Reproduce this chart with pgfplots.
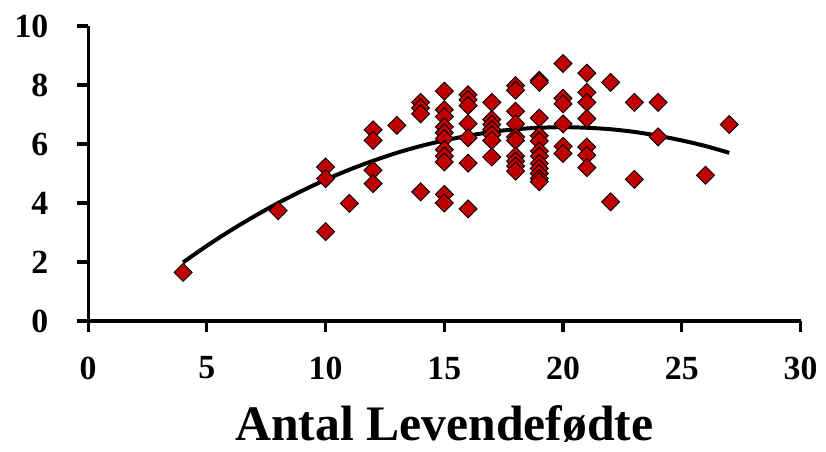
\documentclass[border=0pt]{standalone}
\usepackage{fontspec}
\setmainfont{Liberation Serif}
\usepackage{pgfplots}
\pgfplotsset{compat=1.18}
\definecolor{markred}{RGB}{192,0,0}

\begin{document}
\begin{tikzpicture}
\begin{axis}[
    width=358.5pt, height=148.5pt,
    scale only axis,
    xmin=0, xmax=30, ymin=0, ymax=10,
    xtick={0,5,...,30}, ytick={0,2,...,10},
    axis x line*=bottom, axis y line*=left,
    axis line style={line width=1.6pt, -},
    tick style={line width=1.6pt, black},
    tick align=outside, major tick length=5.5pt,
    /pgf/number format/assume math mode=true,
    ticklabel style={font=\fontsize{17}{18}\selectfont\bfseries},
    xticklabel style={yshift=-9pt},
    yticklabel style={xshift=-11pt},
    xlabel={Antal Levendefødte},
    xlabel style={font=\fontsize{25}{27}\selectfont\bfseries, yshift=-6pt},
    clip=false,
]
\addplot[only marks, mark=square*, mark size=3.2pt,
         mark options={rotate=45, fill=markred, draw=black, line width=0.45pt}]
coordinates {
(4,1.65) (8,3.74)
(10,5.22) (10,4.83) (10,3.03) (11,3.99)
(12,6.48) (12,6.12) (12,5.11) (12,4.66) (13,6.63)
(14,7.41) (14,7.22) (14,7.02) (14,4.38)
(15,7.79) (15,7.16) (15,6.93) (15,6.58) (15,6.38) (15,6.18) (15,5.81) (15,5.59) (15,5.39) (15,4.29) (15,4.00)
(16,7.67) (16,7.50) (16,7.30) (16,6.69) (16,6.21) (16,5.35) (16,3.80)
(17,7.41) (17,6.83) (17,6.66) (17,6.49) (17,6.32) (17,6.12) (17,5.56)
(18,7.98) (18,7.82) (18,7.11) (18,6.68) (18,6.24) (18,6.12) (18,5.59) (18,5.42) (18,5.25) (18,5.08)
(19,8.16) (19,8.09) (19,6.88) (19,6.28) (19,6.10) (19,5.76) (19,5.59) (19,5.34) (19,5.17) (19,5.00) (19,4.83) (19,4.72)
(20,8.73) (20,7.55) (20,7.36) (20,6.68) (20,5.92) (20,5.68)
(21,8.40) (21,7.75) (21,7.41) (21,6.86) (21,5.90) (21,5.62) (21,5.20)
(22,8.09) (22,4.04)
(23,7.41) (23,4.80)
(24,7.41) (24,6.24)
(26,4.94) (27,6.66)
};
\addplot[black, line width=2pt, smooth, no marks]
coordinates {
(4,1.99) (5,2.55) (6,3.07) (7,3.55) (8,4.00) (9,4.41) (10,4.79) (11,5.13)
(12,5.43) (13,5.70) (14,5.93) (15,6.12) (16,6.28) (17,6.41) (18,6.50)
(19,6.55) (20,6.57) (21,6.55) (22,6.50) (23,6.41) (24,6.28) (25,6.12)
(26,5.93) (27,5.70)
};
\end{axis}
\path (current axis.outer north west) ++(-4pt,4pt);
\path (current axis.outer south east) ++(1pt,-1.5pt);
\end{tikzpicture}
\end{document}
